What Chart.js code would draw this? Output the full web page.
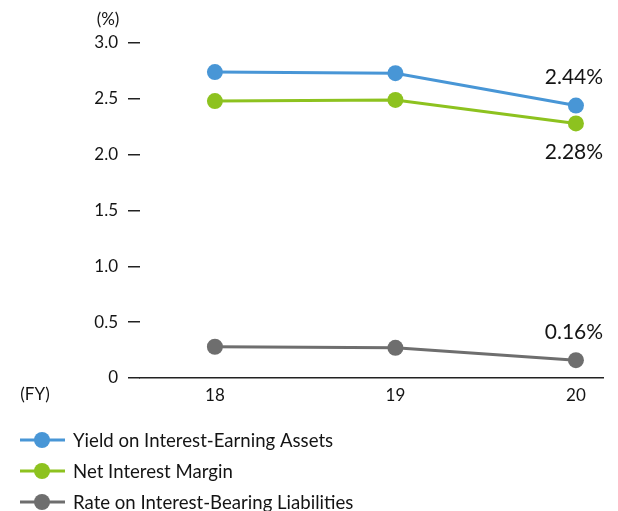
<!DOCTYPE html>
<html>
<head>
<meta charset="utf-8">
<script src="https://cdn.jsdelivr.net/npm/chart.js@4.4.1/dist/chart.umd.min.js"></script>
<style>
  html, body { margin: 0; padding: 0; background: #fff; }
  #wrap { position: relative; width: 618px; height: 511px; }
</style>
</head>
<body>
<div id="wrap"><canvas id="c" width="618" height="511"></canvas></div>
<script>
// Fiscal years and rates (%).
const years = [ 18, 19, 20 ];
const yieldAssets = [ 2.74, 2.73, 2.44 ];
const netMargin = [ 2.48, 2.49, 2.28 ];
const rateLiabilities = [ 0.28, 0.27, 0.16 ];
const yTicks = [ 0, 0.5, 1.0, 1.5, 2.0, 2.5, 3.0 ];

const FONT = 'Lato, "Noto Sans", sans-serif';
const INK = '#141414';

const pts = ( arr ) => arr.map( ( v, i ) => ( { x: years[ i ], y: v } ) );

function series( label, values, color, note ) {
	return {
		label,
		data: pts( values ),
		borderColor: color,
		backgroundColor: color,
		borderWidth: 3,
		pointRadius: 8,
		pointHoverRadius: 8,
		pointBorderWidth: 0,
		note, // where the last value's label goes: 'above' / 'below'
	};
}

// Value label at the last year, plus the "(%)" / "(FY)" units.
const annotations = {
	id: 'annotations',
	afterDatasetsDraw( chart ) {
		const { ctx } = chart;
		ctx.save();
		ctx.fillStyle = INK;
		ctx.font = '21px ' + FONT;
		ctx.textAlign = 'center';
		ctx.textBaseline = 'middle';
		chart.data.datasets.forEach( ( ds, i ) => {
			const meta = chart.getDatasetMeta( i );
			const last = meta.data[ meta.data.length - 1 ];
			const v = ds.data[ ds.data.length - 1 ].y;
			const dy = ds.note === 'below' ? 29 : -28;
			ctx.fillText( v.toFixed( 2 ) + '%', last.x - 2, last.y + dy );
		} );
		ctx.font = '17px ' + FONT;
		ctx.fillText( '(%)', 108, 20 );
		ctx.fillText( '(FY)', 35, 395 );
		ctx.restore();
	},
};

// Stacked legend under the axis, one row per series.
const legendRows = {
	id: 'legendRows',
	afterDraw( chart ) {
		const { ctx } = chart;
		ctx.save();
		ctx.font = '18.6px ' + FONT;
		ctx.textBaseline = 'middle';
		chart.data.datasets.forEach( ( ds, i ) => {
			const y = 440 + i * 31;
			ctx.strokeStyle = ds.borderColor;
			ctx.lineWidth = 3;
			ctx.beginPath();
			ctx.moveTo( 20, y );
			ctx.lineTo( 65, y );
			ctx.stroke();
			ctx.fillStyle = ds.borderColor;
			ctx.beginPath();
			ctx.arc( 42, y, 8, 0, Math.PI * 2 );
			ctx.fill();
			ctx.fillStyle = INK;
			ctx.fillText( ds.label, 73, y + 1 );
		} );
		ctx.restore();
	},
};

new Chart( document.getElementById( 'c' ), {
	type: 'line',
	data: {
		datasets: [
			series( 'Yield on Interest-Earning Assets', yieldAssets, '#4896d6', 'above' ),
			series( 'Net Interest Margin', netMargin, '#8dc21f', 'below' ),
			series( 'Rate on Interest-Bearing Liabilities', rateLiabilities, '#6e6e6e', 'above' ),
		],
	},
	options: {
		responsive: false,
		animation: false,
		events: [],
		layout: { padding: { top: 43, right: 15, bottom: 0, left: 0 } },
		plugins: { legend: { display: false }, tooltip: { enabled: false } },
		scales: {
			x: {
				type: 'linear',
				min: 17.585,
				max: 20.15,
				afterBuildTicks: ( s ) => { s.ticks = years.map( ( v ) => ( { value: v } ) ); },
				afterFit: ( s ) => { s.height = 133; },
				grid: { drawOnChartArea: false, drawTicks: false },
				border: { display: true, color: '#222', width: 1.5 },
				ticks: { color: INK, font: { family: FONT, size: 17 }, padding: 7, callback: ( v ) => String( v ) },
			},
			y: {
				min: 0,
				max: 3,
				afterBuildTicks: ( s ) => { s.ticks = yTicks.map( ( v ) => ( { value: v } ) ); },
				afterFit: ( s ) => { s.width = 140; },
				grid: { drawOnChartArea: false, drawTicks: true, tickLength: 12, color: '#222', lineWidth: 1.5 },
				border: { display: false },
				ticks: {
					color: INK,
					font: { family: FONT, size: 17 },
					padding: 10,
					callback: ( v ) => ( v === 0 ? '0' : v.toFixed( 1 ) ),
				},
			},
		},
	},
	plugins: [ annotations, legendRows ],
} );
</script>
</body>
</html>
